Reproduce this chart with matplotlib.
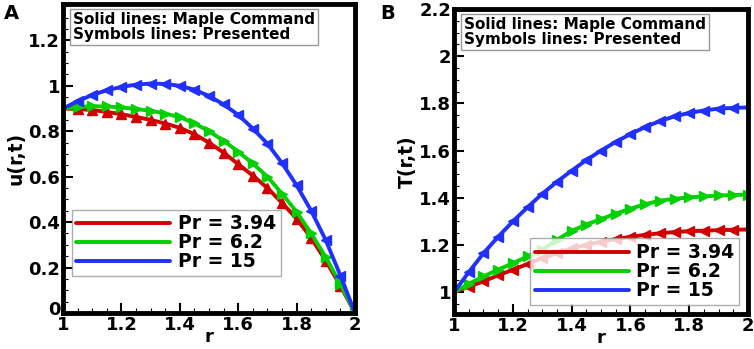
import numpy as np
import matplotlib
matplotlib.use("Agg")
import matplotlib.pyplot as plt
import matplotlib.transforms as mtrans
from matplotlib.ticker import MultipleLocator

plt.rcParams['font.family'] = ['DejaVu Sans']
plt.rcParams['font.weight'] = 'bold'

r = np.round(np.arange(1.0, 2.0001, 0.05), 2)

# panel A: u(r,t)
u_394 = [0.900, 0.898, 0.893, 0.885, 0.875, 0.863, 0.850, 0.834, 0.815, 0.787,
         0.750, 0.706, 0.655, 0.605, 0.550, 0.485, 0.415, 0.330, 0.230, 0.120, 0.0]
u_62 = [0.900, 0.907, 0.910, 0.909, 0.905, 0.898, 0.890, 0.878, 0.862, 0.835,
        0.800, 0.758, 0.710, 0.658, 0.600, 0.525, 0.445, 0.350, 0.245, 0.128, 0.0]
u_15 = [0.900, 0.932, 0.960, 0.980, 0.995, 1.005, 1.010, 1.008, 1.000, 0.983,
        0.955, 0.918, 0.872, 0.812, 0.745, 0.660, 0.562, 0.450, 0.320, 0.165, 0.0]

# panel B: T(r,t)
T_394 = [1.000, 1.024, 1.046, 1.072, 1.095, 1.120, 1.144, 1.166, 1.186, 1.201,
         1.214, 1.225, 1.235, 1.243, 1.250, 1.255, 1.259, 1.261, 1.263, 1.265, 1.266]
T_62 = [1.000, 1.036, 1.067, 1.096, 1.123, 1.152, 1.180, 1.222, 1.260, 1.287,
        1.310, 1.333, 1.354, 1.373, 1.388, 1.396, 1.402, 1.406, 1.410, 1.412, 1.414]
T_15 = [1.000, 1.085, 1.165, 1.235, 1.300, 1.360, 1.417, 1.468, 1.515, 1.560,
        1.600, 1.637, 1.670, 1.700, 1.725, 1.745, 1.760, 1.770, 1.778, 1.781, 1.783]

labels = ['Pr = 3.94', 'Pr = 6.2', 'Pr = 15']
colors = ['#d00000', '#00d000', '#2030ff']
markers_a = ['^', '>', '<']
markers_b = ['<', '>', '<']

fig = plt.figure(figsize=(7.54, 3.49), dpi=100)
axA = fig.add_axes([63 / 754, 1 - 313 / 349, 292 / 754, 309 / 349])
axB = fig.add_axes([454 / 754, 1 - 314 / 349, 294 / 754, 305 / 349])


def style(ax, ylim, ylabel, yticks):
    ax.set_xlim(1, 2)
    ax.set_ylim(*ylim)
    ax.set_yticks(yticks)
    ax.set_yticklabels([('%g' % t) for t in yticks])
    ax.set_xticks([1, 1.2, 1.4, 1.6, 1.8, 2])
    ax.set_xticklabels(['1', '1.2', '1.4', '1.6', '1.8', '2'])
    ax.xaxis.set_minor_locator(MultipleLocator(0.05))
    ax.yaxis.set_minor_locator(MultipleLocator(0.05))
    ax.tick_params(which='major', direction='in', length=7, width=1.5,
                   labelsize=13, top=False, right=False, pad=2)
    ax.tick_params(which='minor', direction='in', length=3.5, width=0.8,
                   top=False, right=False)
    for s in ax.spines.values():
        s.set_linewidth(3.5)
    ax.set_xlabel('r', fontsize=13, fontweight='bold', labelpad=-4)
    ax.set_ylabel(ylabel, fontsize=13.5, fontweight='bold', labelpad=2)
    ax.text(0.035, 0.975, 'Solid lines: Maple Command\nSymbols lines: Presented',
            transform=ax.transAxes, ha='left', va='top', fontsize=11,
            fontweight='bold', linespacing=1.0,
            bbox=dict(boxstyle='square,pad=0.2', fc='white', ec='#999999', lw=1))


def draw(ax, ys, mks):
    handles = []
    for y, c, m, lab in zip(ys, colors, mks, labels):
        h, = ax.plot(r, y, color=c, lw=2.8, label=lab, solid_capstyle='round')
        ax.plot(r[1:], y[1:], ls='none', marker=m, color=c, ms=7.5, mec=c)
        handles.append(h)
    return handles


def legend(ax, handles, loc, anchor):
    leg = ax.legend(handles=handles, loc=loc, bbox_to_anchor=anchor,
                    fontsize=13.5, handlelength=5.0, handletextpad=0.4,
                    labelspacing=0.0, borderpad=0.25, frameon=True,
                    fancybox=False, borderaxespad=0)
    leg.get_frame().set_edgecolor('#999999')
    leg.get_frame().set_linewidth(1)


hA = draw(axA, [u_394, u_62, u_15], markers_a)
style(axA, (0, 1.36), 'u(r,t)', [0, 0.2, 0.4, 0.6, 0.8, 1, 1.2])
legend(axA, hA, 'lower left', (0.03, 0.12))
# lift the "0" label a bit so it clears the "1" below it
zero_lab = axA.get_yticklabels()[0]
zero_lab.set_transform(zero_lab.get_transform() +
                       mtrans.ScaledTranslation(0, 5 / 100, fig.dpi_scale_trans))

hB = draw(axB, [T_394, T_62, T_15], markers_b)
style(axB, (0.908, 2.2), 'T(r,t)', [1, 1.2, 1.4, 1.6, 1.8, 2, 2.2])
legend(axB, hB, 'lower right', (0.97, 0.03))

fig.text(4 / 754, 1 - 4 / 349, 'A', fontsize=14, fontweight='bold', va='top', ha='left')
fig.text(380 / 754, 1 - 4 / 349, 'B', fontsize=14, fontweight='bold', va='top', ha='left')

fig.savefig('out.png', dpi=100)
